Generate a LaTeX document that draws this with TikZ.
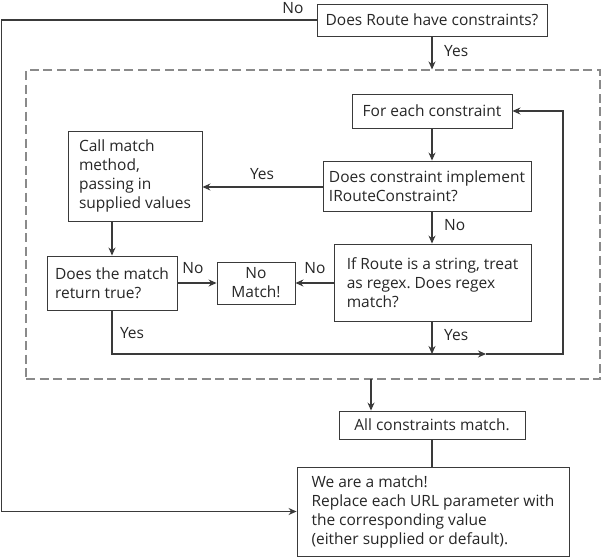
\documentclass[tikz,border=0pt]{standalone}
\usepackage{fontspec}
\setmainfont{Open Sans}
\frenchspacing
\usetikzlibrary{arrows.meta,positioning}
\definecolor{inkgray}{HTML}{3A3A3A}
\definecolor{framegray}{HTML}{8A8A8A}

\begin{document}
\begin{tikzpicture}[x=1pt,y=-1pt]
\tikzset{
  flowbox/.style={draw=inkgray,line width=0.9pt,inner xsep=5pt,inner ysep=2pt,font=\fontsize{15.5}{19}\selectfont,text=black!85},
  leftbox/.style={flowbox,align=left},
  centerbox/.style={flowbox,align=center},
  framebox/.style={draw=framegray,line width=1.1pt,dash pattern=on 9pt off 4.5pt},
  flowedge/.style={draw=inkgray,line width=1.2pt,line join=miter},
  directed/.style={flowedge,-{Stealth[length=8pt,width=7pt]}},
  undirected/.style={flowedge},
  edgelabel/.style={font=\fontsize{15.5}{17}\selectfont,text=black!85,inner sep=0pt}
}
\useasboundingbox (0,0) rectangle (601,557);
\node[framebox,minimum width=574pt,minimum height=309pt] (n_frame) at (313,224.5) {};
\node[centerbox,minimum width=230pt,minimum height=32pt] (n_route) at (432,20) {Does Route have constraints?};
\node[centerbox,minimum width=160pt,minimum height=34pt] (n_each) at (432,111) {For each constraint};
\node[leftbox,minimum width=208pt,minimum height=50pt] (n_impl) at (427,186) {Does constraint implement\\IRouteConstraint?};
\node[leftbox,minimum width=134pt,minimum height=90pt] (n_call) at (135,176) {Call match\\method,\\passing in\\supplied values};
\node[leftbox,minimum width=130pt,minimum height=54pt] (n_true) at (112,283) {Does the match\\return true?};
\node[centerbox,minimum width=78pt,minimum height=42pt] (n_nomatch) at (256,283) {No\\Match!};
\node[leftbox,minimum width=197pt,minimum height=77pt] (n_regex) at (432.5,282.5) {If Route is a string, treat\\as regex. Does regex\\match?};
\node[centerbox,minimum width=186pt,minimum height=28pt] (n_all) at (432,425) {All constraints match.};
\node[leftbox,minimum width=272pt,minimum height=89pt] (n_final) at (433,511.5) {We are a match!\\Replace each URL parameter with\\the corresponding value\\(either supplied or default).};
\coordinate (c_left) at (1.5,20);
\coordinate (c_loop) at (563,354);
\coordinate (c_tip) at (486,354);
\coordinate (c_down) at (371,379);
\draw[directed] (n_route.west) -- (c_left) -- (c_left |- n_final.west) -- (n_final.west);
\draw[directed] (n_route.south) -- (n_route.south |- n_frame.north);
\draw[directed] (n_each.south) -- (n_each.south |- n_impl.north);
\draw[directed] (n_impl.west |- 0,187) -- (n_call.east |- 0,187);
\draw[directed] (n_impl.south -| n_each.south) -- (n_regex.north -| n_each.south);
\draw[directed] (n_call.south -| n_true.north) -- (n_true.north);
\draw[directed] (n_true.east) -- (n_nomatch.west);
\draw[directed] (n_regex.west |- n_nomatch.east) -- (n_nomatch.east);
\draw[directed] (n_regex.south -| n_each.south) -- (n_each.south |- c_loop);
\draw[directed] (n_true.south) |- (c_tip);
\draw[directed] (c_tip) -- (c_loop) |- (n_each.east);
\draw[directed] (c_down) -- (c_down |- n_all.north);
\draw[undirected] (n_all.south) -- (n_all.south |- n_final.north);
\node[edgelabel] (l_noroute) at (293,8) {No};
\node[edgelabel,anchor=west] (l_yesroute) at (444,51) {Yes};
\node[edgelabel] (l_yesimpl) at (262,174) {Yes};
\node[edgelabel,anchor=west] (l_noimpl) at (444,225) {No};
\node[edgelabel] (l_notrue) at (193,268) {No};
\node[edgelabel] (l_noregex) at (315,268) {No};
\node[edgelabel] (l_yestrue) at (132,333) {Yes};
\node[edgelabel,anchor=west] (l_yesregex) at (444,335) {Yes};
\end{tikzpicture}
\end{document}
